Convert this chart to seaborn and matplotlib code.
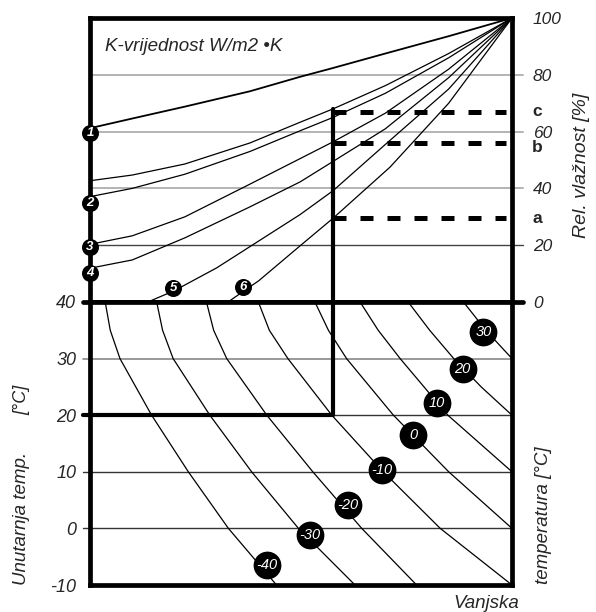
import matplotlib
matplotlib.use('Agg')
import matplotlib.pyplot as plt
import matplotlib.transforms as mtrans
import seaborn as sns

# Nomogram: condensation risk vs. K-value, inside and outside temperature

sns.set_theme(style='white')
plt.rcParams['font.family'] = ['Liberation Sans Narrow', 'Liberation Sans', 'DejaVu Sans']
plt.rcParams['font.style'] = 'italic'

# ---- top panel: rel. humidity curves for each K-value (x runs 0..1) ----
k_u = [0, 0.1, 0.225, 0.379, 0.498, 0.576, 0.7, 0.85, 1.0]
k1 = [61.2, 64.6, 68.8, 74.2, 79.3, 82.4, 87.5, 93.6, 100]
k1b = [42.7, 44.7, 48.6, 56.0, 63.3, 68.0, 76.2, 87.5, 100]
k2 = [37.1, 40.0, 45.0, 53.0, 60.3, 65.0, 73.5, 86.0, 100]
k3 = [20.3, 23.3, 30.0, 41.5, 50.5, 56.4, 66.5, 82.0, 100]
k4 = [11.9, 14.8, 22.6, 33.5, 42.3, 49.5, 61.0, 79.0, 100]
k5_u = [0.137, 0.2, 0.3, 0.379, 0.498, 0.576, 0.7, 0.85, 1.0]
k5 = [0, 4.0, 12.0, 19.5, 30.8, 39.2, 55.5, 75.0, 100]
k6_u = [0.327, 0.4, 0.498, 0.576, 0.711, 0.85, 1.0]
k6 = [0, 7.5, 19.8, 29.5, 47.5, 70.0, 100]

k_labels = ['1', '2', '3', '4', '5', '6']
k_label_u = [0, 0, 0, 0, 0.197, 0.362]
k_label_rh = [59.5, 34.9, 19.5, 10.1, 4.8, 5.4]

hum_ticks = [0, 20, 40, 60, 80, 100]
# example readings a, b, c
ex_names = ['a', 'b', 'c']
ex_rh = [29.5, 56.0, 67.0]
ex_label_rh = [29.5, 54.3, 67.0]

# ---- bottom panel: outside temperature curves ----
t_theta = [40, 35, 30, 20, 10, 0, -10]
t_m40 = [0.036, 0.048, 0.071, 0.146, 0.233, 0.328, 0.442]
t_m30 = [0.158, 0.172, 0.197, 0.284, 0.383, 0.494, 0.628]
t_m20 = [0.276, 0.293, 0.324, 0.419, 0.528, 0.644, 0.774]
t_m10 = [0.399, 0.425, 0.469, 0.573, 0.695, 0.830, 1.0]
t_0_theta = [40, 35, 30, 20, 10, 0]
t_0 = [0.533, 0.565, 0.608, 0.719, 0.850, 1.0]
t_10_theta = [40, 35, 30, 20, 10]
t_10 = [0.640, 0.683, 0.735, 0.848, 1.0]
t_20_theta = [40, 35, 30, 25, 20]
t_20 = [0.754, 0.805, 0.862, 0.927, 1.0]
t_30_theta = [40, 35, 30]
t_30 = [0.885, 0.938, 1.0]

out_labels = ['-40', '-30', '-20', '-10', '0', '10', '20', '30']
out_label_u = [0.419, 0.521, 0.612, 0.691, 0.766, 0.822, 0.883, 0.932]
out_label_t = [-6.5, -1.2, 4.1, 10.3, 16.5, 22.1, 28.1, 34.7]

temp_ticks = [-10, 0, 10, 20, 30, 40]

# example construction: inside temp 20 C, vertical line up to c
ex_u = 0.576
ex_inside = 20
ex_end = 0.985

W, H = 596, 612
fig = plt.figure(figsize=(W / 100, H / 100), dpi=100)
ax_t = fig.add_axes([90 / W, 1 - 302 / H, 422 / W, 284 / H])
ax_b = fig.add_axes([90 / W, 1 - 585 / H, 422 / W, 283 / H])

ax_t.set_xlim(0, 1)
ax_t.set_ylim(0, 100)
ax_b.set_xlim(0, 1)
ax_b.set_ylim(-10, 40)

for ax in (ax_t, ax_b):
    ax.set_xticks([])
    ax.set_xlabel('')
    ax.set_ylabel('')
    for sp in ax.spines.values():
        sp.set_visible(True)
        sp.set_color('black')
        sp.set_linewidth(3.4)
        sp.set_zorder(4)

# gridlines (with little stubs past the frame)
for v in [80, 60, 40]:
    ax_t.axhline(v, xmin=0, xmax=1.026, color='#b3b3b3', lw=1.4, clip_on=False, zorder=1)
ax_t.axhline(20, xmin=0, xmax=1.026, color='#444444', lw=1.0, clip_on=False, zorder=1)
ax_t.axhline(0, xmin=-0.017, xmax=1.026, color='black', lw=3.4, clip_on=False, zorder=4)

ax_b.axhline(30, xmin=-0.017, xmax=1, color='#888888', lw=1.2, clip_on=False, zorder=1)
for v in [20, 10, 0]:
    ax_b.axhline(v, xmin=-0.017, xmax=1, color='#333333', lw=1.0, clip_on=False, zorder=1)
ax_b.axhline(ex_inside, xmin=-0.017, xmax=ex_u, color='black', lw=3.0, clip_on=False, zorder=4)
ax_b.axvline(ex_u, ymin=(ex_inside + 10) / 50, ymax=1, color='black', lw=3.0, zorder=4)
ax_t.axvline(ex_u, ymin=0, ymax=(ex_rh[2] + 1) / 100, color='black', lw=3.0, zorder=4)

# K-value curves
for xs, ys, w in [(k_u, k1, 1.3), (k_u, k1b, 0.9), (k_u, k2, 0.9), (k_u, k3, 0.9),
                  (k_u, k4, 0.9), (k5_u, k5, 0.9), (k6_u, k6, 0.9)]:
    sns.lineplot(x=xs, y=ys, ax=ax_t, color='black', lw=w, sort=False, estimator=None)

# outside temperature curves
for xs, ys in [(t_m40, t_theta), (t_m30, t_theta), (t_m20, t_theta), (t_m10, t_theta),
               (t_0, t_0_theta), (t_10, t_10_theta), (t_20, t_20_theta), (t_30, t_30_theta)]:
    sns.lineplot(x=xs, y=ys, ax=ax_b, color='black', lw=0.9, sort=False, estimator=None)

# dashed readings a, b, c
ax_t.hlines(ex_rh, ex_u, ex_end, colors='black', lw=3.6, linestyles=(0, (2.6, 2.8)), zorder=3)
trans = mtrans.blended_transform_factory(ax_t.transAxes, ax_t.transData)
for name, v in zip(ex_names, ex_label_rh):
    ax_t.text(1.06, v, name, transform=trans, ha='center', va='center', fontsize=12.5,
              fontweight='bold', fontstyle='normal', family=['Liberation Sans', 'DejaVu Sans'],
              clip_on=False)

# numbered markers
sns.scatterplot(x=k_label_u, y=k_label_rh, ax=ax_t, color='black', s=150, linewidth=0,
                clip_on=False, zorder=6)
for lab, x, y in zip(k_labels, k_label_u, k_label_rh):
    ax_t.text(x, y, lab, color='white', ha='center', va='center', fontsize=9.5,
              fontweight='bold', zorder=7, clip_on=False)

sns.scatterplot(x=out_label_u, y=out_label_t, ax=ax_b, color='black', s=400, linewidth=0,
                clip_on=False, zorder=6)
for lab, x, y in zip(out_labels, out_label_u, out_label_t):
    ax_b.text(x, y, lab, color='white', ha='center', va='center', fontsize=10.5,
              zorder=7, clip_on=False)

# tick labels
ax_t.yaxis.tick_right()
ax_t.set_yticks(hum_ticks)
ax_t.set_yticklabels([str(v) for v in hum_ticks])
ax_t.tick_params(axis='y', length=0, pad=15, labelsize=12.5)
ax_b.set_yticks(temp_ticks)
ax_b.set_yticklabels([str(v) for v in temp_ticks])
ax_b.tick_params(axis='y', length=0, pad=10, labelsize=13)
for lbl in ax_t.get_yticklabels() + ax_b.get_yticklabels():
    lbl.set_fontstyle('italic')

# texts
ax_t.text(0.036, 0.90, 'K-vrijednost W/m2 •K', transform=ax_t.transAxes,
          ha='left', va='center', fontsize=13.5)
fig.text(582 / W, 1 - 165 / H, 'Rel. vlažnost [%]', rotation=90, ha='center', va='center', fontsize=14)
fig.text(22 / W, 1 - 400 / H, '[°C]', rotation=90, ha='center', va='center', fontsize=13)
fig.text(22 / W, 1 - 518 / H, 'Unutarnja temp.', rotation=90, ha='center', va='center', fontsize=13.5)
fig.text(543 / W, 1 - 515 / H, 'temperatura [°C]', rotation=90, ha='center', va='center', fontsize=13.5)
fig.text(486 / W, 1 - 603 / H, 'Vanjska', ha='center', va='center', fontsize=13.5)

fig.savefig('out.png', dpi=100)
